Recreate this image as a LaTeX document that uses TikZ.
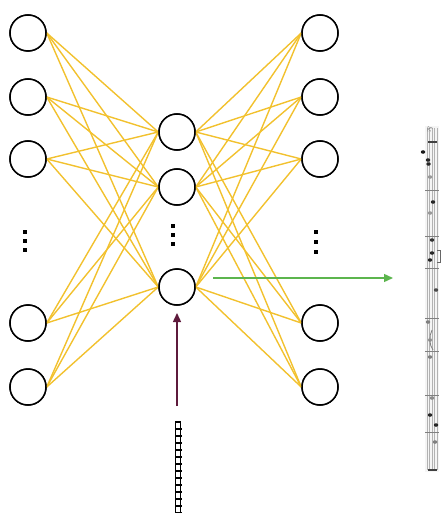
\documentclass[tikz,border=0pt]{standalone}
\usetikzlibrary{arrows.meta,shapes.geometric}
\definecolor{edgeyellow}{HTML}{F2C12E}
\definecolor{arrgreen}{HTML}{5CB54E}
\definecolor{arrmaroon}{HTML}{5E1A3C}
\begin{document}
\begin{tikzpicture}[x=1pt,y=-1pt,
  neuron/.style={circle,draw=black,line width=1.5pt,minimum size=36pt,inner sep=0pt,fill=white},
  conn/.style={draw=edgeyellow,line width=1.4pt},
  vdot/.style={fill=black,minimum size=4pt,inner sep=0pt,draw=none,rectangle},
  note/.style={fill=black!80,ellipse,inner sep=0pt,minimum width=4.5pt,minimum height=3.5pt}]
\useasboundingbox (0,0) rectangle (441,513);
% nodes
\foreach \n/\y in {1/33,2/97,3/159,4/323,5/387}{
  \node[neuron] (L\n) at (28,\y) {};
  \node[neuron] (R\n) at (320,\y) {};
}
\foreach \n/\y in {1/132,2/187,3/287}{
  \node[neuron] (M\n) at (177,\y) {};
}
% connections
\foreach \i in {1,...,5}{
  \foreach \j in {1,2,3}{
    \draw[conn] (L\i.east) -- (M\j.west);
    \draw[conn] (M\j.east) -- (R\i.west);
  }
}
% redraw neurons over lines
\foreach \n/\y in {1/33,2/97,3/159,4/323,5/387}{
  \node[neuron] at (28,\y) {};
  \node[neuron] at (320,\y) {};
}
\foreach \n/\y in {1/132,2/187,3/287}{
  \node[neuron] at (177,\y) {};
}
% vertical dots
\foreach \y [count=\k] in {232,241,250}{\node[vdot] (dl\k) at (25,\y) {};}
\foreach \y [count=\k] in {226,235,244}{\node[vdot] (dm\k) at (173,\y) {};}
\foreach \y [count=\k] in {232,242,252}{\node[vdot] (dr\k) at (316,\y) {};}
% green arrow
\coordinate (gs) at (213,278);
\coordinate (ge) at (393,278);
\draw[arrgreen,line width=1.4pt,-{Triangle[length=9pt,width=8pt]}] (gs) -- (ge);
% input bar
\draw[black,line width=1.4pt] (175.5,422) rectangle (180.5,516);
\foreach \y in {429,436,...,513}{\draw[black,line width=1.1pt] (175.5,\y) -- (181.5,\y);}
% maroon arrow
\coordinate (ms) at (177,406);
\coordinate (me) at (177,313);
\draw[arrmaroon,line width=1.4pt,-{Triangle[length=9pt,width=8pt]}] (ms) -- (me);
% music sheet (rotated score)
\fill[black!4] (425,126) rectangle (439,472);
\foreach \x in {427,429.5,432,434.5,437}{\draw[black!30,line width=0.6pt] (\x,128) -- (\x,470);}
\draw[black!75,line width=2pt] (428,142) -- (437,142);
\draw[black!75,line width=2pt] (428,470) -- (437,470);
\node[text=black!60,font=\scriptsize] at (430,130) {\rotatebox{-90}{\&}};
\foreach \x/\y/\g in {423/152/90,428/160/85,428.5/164/85,430/177/40,433/202/85,430/213/40,432/240/80,432/253/85,430/260/85,436/290/70,428/322/50,430/340/40,430/357/50,432/398/45,430/415/85,436/425/85,435/442/50}{
  \node[note,fill=black!\g] at (\x,\y) {};
}
\foreach \y in {190,236,268,318,351,395,432}{\draw[black!50,line width=0.7pt] (425,\y) -- (439,\y);}
\draw[black!60,line width=0.8pt] (437,250) -- (440,250) -- (440,262) -- (437,262);
\draw[black!50,line width=0.8pt] (432,330) .. controls (429,336) and (429,345) .. (433,350);
\end{tikzpicture}
\end{document}
